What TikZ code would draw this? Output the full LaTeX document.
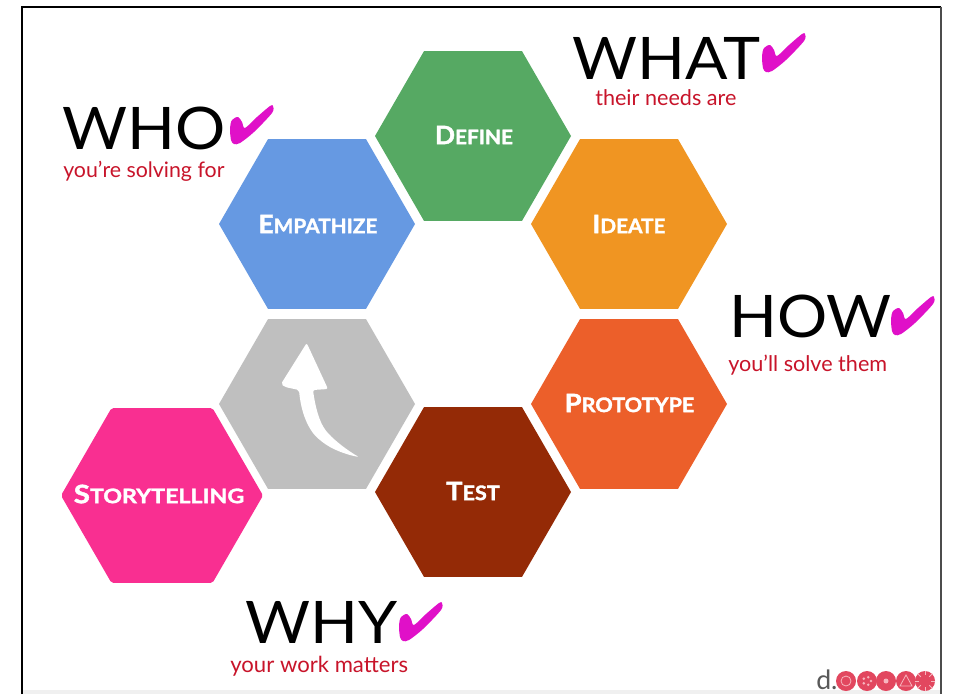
\documentclass[tikz,border=0pt]{standalone}
\usepackage{fontspec}
\setmainfont{Lato}
\newfontfamily\hexfont[BoldFeatures={FakeBold=1.6}]{Lato}
\usetikzlibrary{shapes.geometric}
\definecolor{hblue}{HTML}{6699E2}
\definecolor{hgreen}{HTML}{56A963}
\definecolor{horange}{HTML}{F09522}
\definecolor{hred}{HTML}{EC5F2A}
\definecolor{hbrown}{HTML}{942A06}
\definecolor{hgray}{HTML}{BFBFBF}
\definecolor{hpink}{HTML}{F92F91}
\definecolor{chk}{HTML}{E010C8}
\definecolor{subred}{HTML}{C8142A}
\definecolor{logored}{HTML}{E2475F}
\definecolor{logotint}{HTML}{F7B5BE}
\newcommand{\capsLabel}[3]{\scalebox{#1}[1]{\hexfont\bfseries\fontsize{19}{19}\selectfont #2\fontsize{15}{15}\selectfont #3}}
\newcommand{\bigT}[1]{\scalebox{1.07}[1]{\fontsize{44}{44}\selectfont #1}}
\newcommand{\subT}[2][16.2]{{\fontsize{#1}{#1}\selectfont #2}}
\tikzset{
  hexa/.style={regular polygon,regular polygon sides=6,minimum size=147pt,inner sep=0pt,outer sep=0pt,text=white,fill=#1},
  hexlabel/.style={inner sep=0pt,text=white},
  headword/.style={anchor=base west,inner sep=0pt,text=black},
  subword/.style={anchor=base west,inner sep=0pt,text=subred},
  logodot/.style={circle,fill=logored,minimum size=15pt,inner sep=0pt},
  tint/.style={draw=logotint,line width=0.6pt,fill=none},
  framerule/.style={line width=1.5pt,black},
}
\newcommand{\chkmark}[3]{\fill[chk,shift={(#2,#3)}] plot[smooth cycle,tension=0.5] coordinates {(0,0) (-1,7) (-19,26) (-33,37) (-39,38) (-42,34) (-43,22) (-41,14) (-35,11) (-31,16) (-28,22) (-16,11) (-3,0)};}
\begin{document}
\begin{tikzpicture}[x=0.75pt,y=-0.75pt]
\useasboundingbox (0,0) rectangle (953,694);
\fill[white] (0,0) rectangle (953,694);
\fill[black!6] (22,690) rectangle (941,694);
\draw[framerule] (21.5,694) -- (21.5,6.5) -- (941,6.5);
\draw[line width=1.5pt,black!70] (941,6.5) -- (941,694);
% hexagons
\node[hexa=hblue] (empathize) at (317,224) {};
\node[hexa=hgreen] (define) at (473,136) {};
\node[hexa=horange] (ideate) at (629,224) {};
\node[hexa=hred] (prototype) at (629,404) {};
\node[hexa=hbrown] (test) at (473,492) {};
\node[hexa=hgray] (blank) at (317,404) {};
\node[hexa=hpink,minimum size=151.5pt,rounded corners=1.5pt] (story) at (162,495.5) {};
\node[hexlabel] (lempathize) at (318,224) {\capsLabel{1.04}{E}{MPATHIZE}};
\node[hexlabel] (ldefine) at (474,135) {\capsLabel{1.04}{D}{EFINE}};
\node[hexlabel] (lideate) at (629,224) {\capsLabel{1.04}{I}{DEATE}};
\node[hexlabel] (lprototype) at (629.5,403) {\capsLabel{1.08}{P}{ROTOTYPE}};
\node[hexlabel] (ltest) at (473,491) {\capsLabel{1.08}{T}{EST}};
\node[hexlabel] (lstory) at (159,494) {\capsLabel{1.16}{S}{TORYTELLING}};
% arrow
\fill[white,rounded corners=1.5pt] (306.7,343) -- (281,384) -- (285,387) -- (299,390)
  .. controls (301,412) and (308,430) .. (320,440)
  .. controls (332,450) and (348,455) .. (359,457)
  .. controls (350,452) and (336,442) .. (327,432)
  .. controls (319,422) and (315,405) .. (313,390) -- (328,389) -- cycle;
% words
\node[headword] (who) at (62,149) {\bigT{WHO}};
\node[subword] (whosub) at (63,177) {\subT[16]{you’re solving for}};
\node[headword] (what) at (572,79) {\bigT{WHAT}};
\node[subword] (whatsub) at (595,105) {\subT{their needs are}};
\node[headword] (how) at (729,337) {\bigT{HOW}};
\node[subword] (howsub) at (728,371) {\subT{you’ll solve them}};
\node[headword] (why) at (245,643) {\bigT{WHY}};
\node[subword] (whysub) at (230,672) {\subT[16.6]{your work matters}};
\chkmark{w}{273}{106}
\chkmark{x}{805}{34}
\chkmark{h}{934}{297}
\chkmark{y}{442}{603}
% logo
\node[anchor=base west,inner sep=0pt,text=black!65] (dmark) at (816,689.5) {\fontsize{20}{20}\selectfont d.};
\node[logodot] (l1) at (846,681) {};
\node[logodot] (l2) at (867,681) {};
\node[logodot] (l3) at (886,681) {};
\node[logodot] (l4) at (906,681) {};
\node[logodot] (l5) at (925,681) {};
\draw[tint] (l1) circle (5);
\foreach \a in {0,72,...,288} \fill[logotint] (l2) ++(\a:4) circle (1.4);
\fill[logotint] (l3) circle (2.5);
\draw[tint] (906,675) -- (912,686) -- (900,686) -- cycle;
\foreach \a in {0,45,...,315} \draw[tint] (l5) -- ++(\a:6);
\end{tikzpicture}
\end{document}
